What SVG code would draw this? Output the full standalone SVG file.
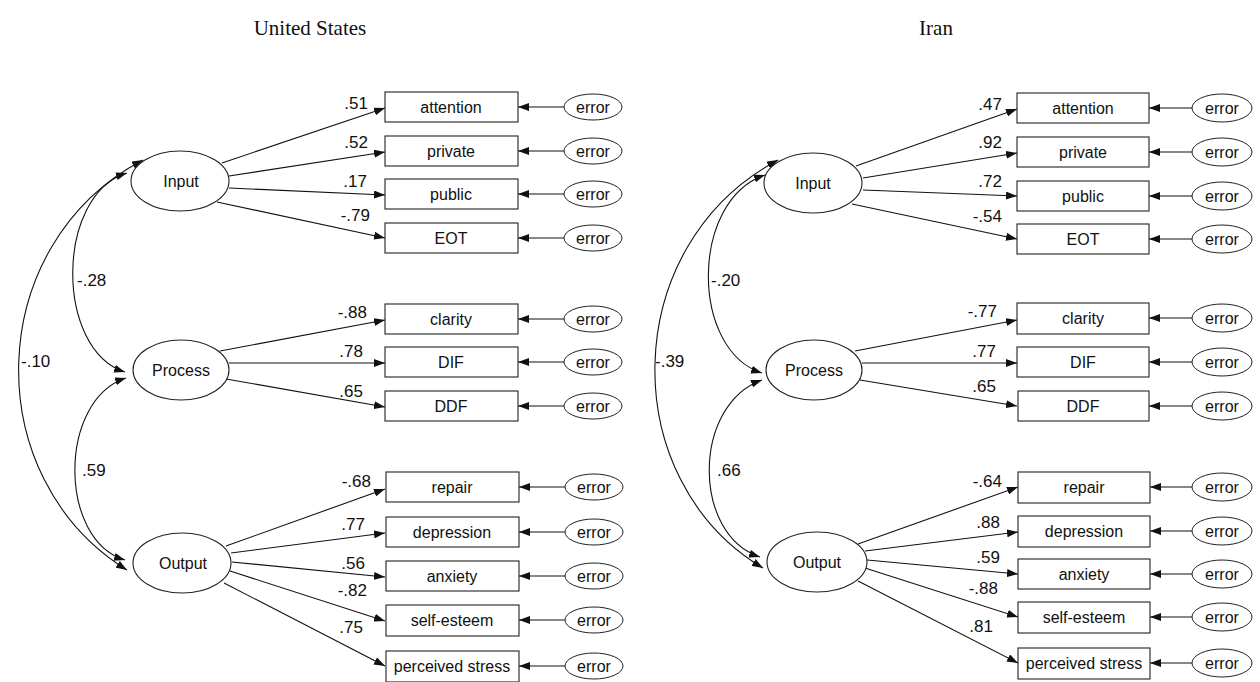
<svg xmlns="http://www.w3.org/2000/svg" width="1260" height="682" viewBox="0 0 1260 682">
<defs>
<marker id="ah" viewBox="0 0 11 8" refX="11" refY="4" markerWidth="11" markerHeight="8" markerUnits="userSpaceOnUse" orient="auto-start-reverse">
<path d="M0,0 L11,4 L0,8 z" fill="#111"/>
</marker>
<style>
.t{font-family:"Liberation Serif",serif;font-size:21px;fill:#111;text-anchor:middle}
.n{font-family:"Liberation Sans",Arial,sans-serif;font-size:16px;fill:#111;text-anchor:middle}
.v{font-family:"Liberation Sans",Arial,sans-serif;font-size:17px;fill:#111;text-anchor:end}
.c{font-family:"Liberation Sans",Arial,sans-serif;font-size:17px;fill:#111;text-anchor:start}
.box{fill:#fff;stroke:#222;stroke-width:1.1}
.lat{fill:#fff;stroke:#222;stroke-width:1.1}
.err{fill:#fff;stroke:#222;stroke-width:1}
.ln{fill:none;stroke:#111;stroke-width:1.1;marker-end:url(#ah)}
.cv{fill:none;stroke:#111;stroke-width:1.1;marker-start:url(#ah);marker-end:url(#ah)}
</style>
</defs>
<rect width="1260" height="682" fill="#fff"/>
<text class="t" x="310" y="35">United States</text>
<text class="t" x="936" y="35">Iran</text>

<g id="connectors">
<path class="ln" d="M222,163 L385,108"/>
<path class="ln" d="M229,176 L385,152"/>
<path class="ln" d="M229,188 L385,195"/>
<path class="ln" d="M217,202 L385,238"/>
<path class="ln" d="M220,351 L385,320"/>
<path class="ln" d="M229,363 L385,363"/>
<path class="ln" d="M226,379 L385,407"/>
<path class="ln" d="M226,546 L385,489"/>
<path class="ln" d="M231,553 L385,533"/>
<path class="ln" d="M232,562 L385,577"/>
<path class="ln" d="M230,571 L385,621"/>
<path class="ln" d="M224,583 L385,666"/>
<path class="ln" d="M564,107 L518,107"/>
<path class="ln" d="M564,151 L518,151"/>
<path class="ln" d="M564,194 L518,194"/>
<path class="ln" d="M564,238 L518,238"/>
<path class="ln" d="M564,319 L518,319"/>
<path class="ln" d="M564,362 L518,362"/>
<path class="ln" d="M564,406 L518,406"/>
<path class="ln" d="M565,487 L519,487"/>
<path class="ln" d="M565,532 L519,532"/>
<path class="ln" d="M565,576 L519,576"/>
<path class="ln" d="M565,620 L519,620"/>
<path class="ln" d="M565,666 L519,666"/>
<path class="cv" d="M127,173 C55,195 55,350 125,372"/>
<path class="cv" d="M143,160 C-18,245 -22,478 127,570"/>
<path class="cv" d="M126,378 C58,400 58,540 125,560"/>
<path class="ln" d="M856,166 L1017,109"/>
<path class="ln" d="M863,178 L1017,153"/>
<path class="ln" d="M863,190 L1017,196"/>
<path class="ln" d="M852,204 L1017,239"/>
<path class="ln" d="M855,351 L1017,320"/>
<path class="ln" d="M862,363 L1017,363"/>
<path class="ln" d="M860,380 L1017,406"/>
<path class="ln" d="M858,544 L1018,487"/>
<path class="ln" d="M865,551 L1018,532"/>
<path class="ln" d="M867,560 L1018,574"/>
<path class="ln" d="M865,568 L1018,617"/>
<path class="ln" d="M858,581 L1018,663"/>
<path class="ln" d="M1192,108 L1149,108"/>
<path class="ln" d="M1192,152 L1149,152"/>
<path class="ln" d="M1192,196 L1149,196"/>
<path class="ln" d="M1192,239 L1149,239"/>
<path class="ln" d="M1192,318 L1149,318"/>
<path class="ln" d="M1192,362 L1149,362"/>
<path class="ln" d="M1192,406 L1149,406"/>
<path class="ln" d="M1192,487 L1150,487"/>
<path class="ln" d="M1192,531 L1150,531"/>
<path class="ln" d="M1192,574 L1150,574"/>
<path class="ln" d="M1192,617 L1150,617"/>
<path class="ln" d="M1192,663 L1150,663"/>
<path class="cv" d="M765,175 C690,200 690,350 762,373"/>
<path class="cv" d="M778,160 C618,245 615,480 763,568"/>
<path class="cv" d="M762,380 C692,405 692,535 760,557"/>
</g>

<g id="loading-labels">
<text class="v" x="368" y="109">.51</text>
<text class="v" x="368" y="148">.52</text>
<text class="v" x="367" y="187">.17</text>
<text class="v" x="370" y="221">-.79</text>
<text class="v" x="367" y="318">-.88</text>
<text class="v" x="363" y="357">.78</text>
<text class="v" x="363" y="397">.65</text>
<text class="v" x="371" y="487">-.68</text>
<text class="v" x="365" y="530">.77</text>
<text class="v" x="365" y="569">.56</text>
<text class="v" x="367" y="596">-.82</text>
<text class="v" x="363" y="633">.75</text>
<text class="c" x="77" y="286">-.28</text>
<text class="c" x="21" y="367">-.10</text>
<text class="c" x="82" y="476">.59</text>
<text class="v" x="1002" y="110">.47</text>
<text class="v" x="1002" y="148">.92</text>
<text class="v" x="1002" y="187">.72</text>
<text class="v" x="1002" y="222">-.54</text>
<text class="v" x="997" y="317">-.77</text>
<text class="v" x="996" y="357">.77</text>
<text class="v" x="996" y="392">.65</text>
<text class="v" x="1002" y="487">-.64</text>
<text class="v" x="1000" y="528">.88</text>
<text class="v" x="1000" y="563">.59</text>
<text class="v" x="998" y="594">-.88</text>
<text class="v" x="993" y="632">.81</text>
<text class="c" x="711" y="286">-.20</text>
<text class="c" x="655" y="367">-.39</text>
<text class="c" x="717" y="476">.66</text>
</g>

<g id="us-input"><ellipse class="lat" cx="180" cy="181" rx="49" ry="30"/><text class="n" x="181" y="187">Input</text></g>
<g id="us-process"><ellipse class="lat" cx="181" cy="370" rx="48" ry="30"/><text class="n" x="181" y="376">Process</text></g>
<g id="us-output"><ellipse class="lat" cx="182" cy="563" rx="49" ry="30"/><text class="n" x="183" y="569">Output</text></g>

<g id="us-attention"><rect class="box" x="385" y="92" width="133" height="30"/><text class="n" x="451" y="113">attention</text></g>
<g id="us-private"><rect class="box" x="385" y="136" width="133" height="30"/><text class="n" x="451" y="157">private</text></g>
<g id="us-public"><rect class="box" x="385" y="179" width="133" height="30"/><text class="n" x="451" y="200">public</text></g>
<g id="us-eot"><rect class="box" x="385" y="223" width="133" height="30"/><text class="n" x="451" y="244">EOT</text></g>
<g id="us-clarity"><rect class="box" x="385" y="304" width="133" height="30"/><text class="n" x="451" y="325">clarity</text></g>
<g id="us-dif"><rect class="box" x="385" y="347" width="133" height="30"/><text class="n" x="451" y="368">DIF</text></g>
<g id="us-ddf"><rect class="box" x="385" y="391" width="133" height="30"/><text class="n" x="451" y="412">DDF</text></g>
<g id="us-repair"><rect class="box" x="386" y="472" width="133" height="30"/><text class="n" x="452" y="493">repair</text></g>
<g id="us-depression"><rect class="box" x="386" y="517" width="133" height="30"/><text class="n" x="452" y="538">depression</text></g>
<g id="us-anxiety"><rect class="box" x="386" y="561" width="133" height="30"/><text class="n" x="452" y="582">anxiety</text></g>
<g id="us-selfesteem"><rect class="box" x="386" y="605" width="133" height="31"/><text class="n" x="452" y="626">self-esteem</text></g>
<g id="us-stress"><rect class="box" x="386" y="651" width="133" height="31"/><text class="n" x="452" y="672">perceived stress</text></g>

<g id="us-e1"><ellipse class="err" cx="593" cy="107" rx="29" ry="13"/><text class="n" x="593" y="113">error</text></g>
<g id="us-e2"><ellipse class="err" cx="593" cy="151" rx="29" ry="13"/><text class="n" x="593" y="157">error</text></g>
<g id="us-e3"><ellipse class="err" cx="593" cy="194" rx="29" ry="13"/><text class="n" x="593" y="200">error</text></g>
<g id="us-e4"><ellipse class="err" cx="593" cy="238" rx="29" ry="13"/><text class="n" x="593" y="244">error</text></g>
<g id="us-e5"><ellipse class="err" cx="593" cy="319" rx="29" ry="13"/><text class="n" x="593" y="325">error</text></g>
<g id="us-e6"><ellipse class="err" cx="593" cy="362" rx="29" ry="13"/><text class="n" x="593" y="368">error</text></g>
<g id="us-e7"><ellipse class="err" cx="593" cy="406" rx="29" ry="13"/><text class="n" x="593" y="412">error</text></g>
<g id="us-e8"><ellipse class="err" cx="594" cy="487" rx="29" ry="13"/><text class="n" x="594" y="493">error</text></g>
<g id="us-e9"><ellipse class="err" cx="594" cy="532" rx="29" ry="13"/><text class="n" x="594" y="538">error</text></g>
<g id="us-e10"><ellipse class="err" cx="594" cy="576" rx="29" ry="13"/><text class="n" x="594" y="582">error</text></g>
<g id="us-e11"><ellipse class="err" cx="594" cy="620" rx="29" ry="13"/><text class="n" x="594" y="626">error</text></g>
<g id="us-e12"><ellipse class="err" cx="594" cy="666" rx="29" ry="13"/><text class="n" x="594" y="672">error</text></g>

<g id="ir-input"><ellipse class="lat" cx="813" cy="183" rx="49" ry="30"/><text class="n" x="813" y="189">Input</text></g>
<g id="ir-process"><ellipse class="lat" cx="814" cy="370" rx="48" ry="30"/><text class="n" x="814" y="376">Process</text></g>
<g id="ir-output"><ellipse class="lat" cx="817" cy="562" rx="50" ry="30"/><text class="n" x="817" y="568">Output</text></g>

<g id="ir-attention"><rect class="box" x="1017" y="93" width="132" height="30"/><text class="n" x="1083" y="114">attention</text></g>
<g id="ir-private"><rect class="box" x="1017" y="137" width="132" height="30"/><text class="n" x="1083" y="158">private</text></g>
<g id="ir-public"><rect class="box" x="1017" y="181" width="132" height="30"/><text class="n" x="1083" y="202">public</text></g>
<g id="ir-eot"><rect class="box" x="1017" y="224" width="132" height="30"/><text class="n" x="1083" y="245">EOT</text></g>
<g id="ir-clarity"><rect class="box" x="1017" y="303" width="132" height="31"/><text class="n" x="1083" y="324">clarity</text></g>
<g id="ir-dif"><rect class="box" x="1017" y="347" width="132" height="30"/><text class="n" x="1083" y="368">DIF</text></g>
<g id="ir-ddf"><rect class="box" x="1018" y="391" width="131" height="30"/><text class="n" x="1083" y="412">DDF</text></g>
<g id="ir-repair"><rect class="box" x="1018" y="472" width="132" height="31"/><text class="n" x="1084" y="493">repair</text></g>
<g id="ir-depression"><rect class="box" x="1018" y="516" width="132" height="31"/><text class="n" x="1084" y="537">depression</text></g>
<g id="ir-anxiety"><rect class="box" x="1018" y="559" width="132" height="30"/><text class="n" x="1084" y="580">anxiety</text></g>
<g id="ir-selfesteem"><rect class="box" x="1018" y="602" width="132" height="31"/><text class="n" x="1084" y="623">self-esteem</text></g>
<g id="ir-stress"><rect class="box" x="1018" y="648" width="132" height="31"/><text class="n" x="1084" y="669">perceived stress</text></g>

<g id="ir-e1"><ellipse class="err" cx="1222" cy="108" rx="30" ry="14"/><text class="n" x="1222" y="114">error</text></g>
<g id="ir-e2"><ellipse class="err" cx="1222" cy="152" rx="30" ry="14"/><text class="n" x="1222" y="158">error</text></g>
<g id="ir-e3"><ellipse class="err" cx="1222" cy="196" rx="30" ry="14"/><text class="n" x="1222" y="202">error</text></g>
<g id="ir-e4"><ellipse class="err" cx="1222" cy="239" rx="30" ry="14"/><text class="n" x="1222" y="245">error</text></g>
<g id="ir-e5"><ellipse class="err" cx="1222" cy="318" rx="30" ry="14"/><text class="n" x="1222" y="324">error</text></g>
<g id="ir-e6"><ellipse class="err" cx="1222" cy="362" rx="30" ry="14"/><text class="n" x="1222" y="368">error</text></g>
<g id="ir-e7"><ellipse class="err" cx="1222" cy="406" rx="30" ry="14"/><text class="n" x="1222" y="412">error</text></g>
<g id="ir-e8"><ellipse class="err" cx="1222" cy="487" rx="30" ry="14"/><text class="n" x="1222" y="493">error</text></g>
<g id="ir-e9"><ellipse class="err" cx="1222" cy="531" rx="30" ry="14"/><text class="n" x="1222" y="537">error</text></g>
<g id="ir-e10"><ellipse class="err" cx="1222" cy="574" rx="30" ry="14"/><text class="n" x="1222" y="580">error</text></g>
<g id="ir-e11"><ellipse class="err" cx="1222" cy="617" rx="30" ry="14"/><text class="n" x="1222" y="623">error</text></g>
<g id="ir-e12"><ellipse class="err" cx="1222" cy="663" rx="30" ry="14"/><text class="n" x="1222" y="669">error</text></g>
</svg>
